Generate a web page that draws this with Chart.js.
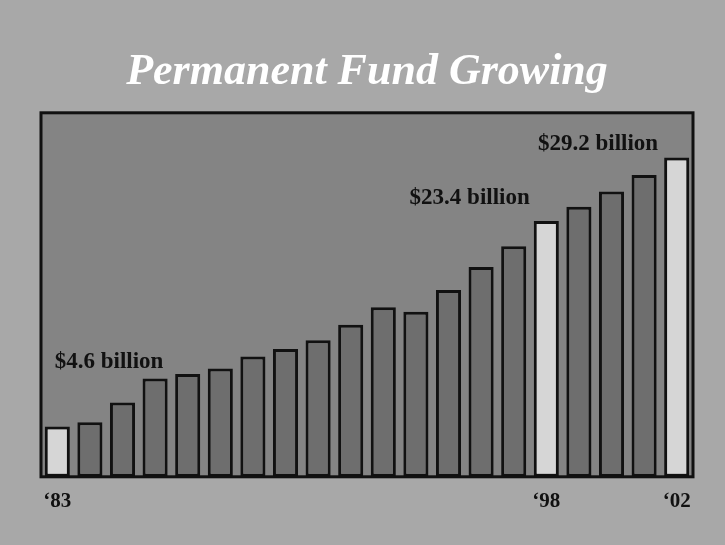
<!DOCTYPE html>
<html>
<head>
<meta charset="utf-8">
<title>Permanent Fund Growing</title>
<script src="https://cdn.jsdelivr.net/npm/chart.js@4/dist/chart.umd.min.js"></script>
<style>
  html, body { margin: 0; padding: 0; background: #a8a8a8; }
  canvas { display: block; }
</style>
</head>
<body>
<canvas id="fundChart" width="725" height="545"></canvas>
<script>
// fund value per fiscal year, in $ billion
const years = ['‘83', '‘84', '‘85', '‘86', '‘87', '‘88', '‘89', '‘90', '‘91', '‘92',
               '‘93', '‘94', '‘95', '‘96', '‘97', '‘98', '‘99', '‘00', '‘01', '‘02'];
const fundValues = [4.6, 5.0, 6.8, 9.0, 9.4, 9.9, 11.0, 11.7, 12.5, 13.9,
                    15.5, 15.1, 17.1, 19.2, 21.1, 23.4, 24.7, 26.1, 27.6, 29.2];
const highlightYears = ['‘83', '‘98', '‘02'];
const noteTexts = ['$4.6 billion', '$23.4 billion', '$29.2 billion'];

const DARK_BAR = '#6e6e6e';
const LIGHT_BAR = '#d6d6d6';

const barColors = years.map(y => highlightYears.includes(y) ? LIGHT_BAR : DARK_BAR);

// panel background + border
const panelPlugin = {
    id: 'panel',
    beforeDraw(chart) {
        const { ctx, chartArea: a } = chart;
        ctx.save();
        ctx.fillStyle = '#a8a8a8';
        ctx.fillRect(0, 0, chart.width, chart.height);
        ctx.fillStyle = '#848484';
        ctx.fillRect(a.left, a.top, a.right - a.left, a.bottom - a.top);
        ctx.restore();
    },
    afterDatasetsDraw(chart) {
        const { ctx, chartArea: a } = chart;
        ctx.save();
        ctx.strokeStyle = '#111';
        ctx.lineWidth = 3;
        ctx.strokeRect(a.left, a.top, a.right - a.left, a.bottom - a.top);
        ctx.restore();
    }
};

// "$x billion" notes next to the highlighted bars
const notesPlugin = {
    id: 'notes',
    afterDatasetsDraw(chart) {
        const { ctx } = chart;
        const bars = chart.getDatasetMeta(0).data;
        const place = [
            { align: 'left', dx: 10, dy: -64 },
            { align: 'right', dx: -4, dy: -23 },
            { align: 'right', dx: -6, dy: -14 }
        ];
        ctx.save();
        ctx.font = 'bold 23px "Liberation Serif", "Times New Roman", serif';
        ctx.fillStyle = '#111';
        ctx.textBaseline = 'middle';
        highlightYears.forEach((y, i) => {
            const bar = bars[years.indexOf(y)];
            const left = bar.x - bar.width / 2;
            ctx.textAlign = place[i].align;
            ctx.fillText(noteTexts[i], left + place[i].dx, bar.y + place[i].dy);
        });
        ctx.restore();
    }
};

const chart = new Chart(document.getElementById('fundChart'), {
    type: 'bar',
    data: {
        labels: years,
        datasets: [{
            data: fundValues,
            backgroundColor: barColors,
            borderColor: '#111',
            borderWidth: 3,
            borderSkipped: false,
            barPercentage: 0.77,
            categoryPercentage: 1.0
        }]
    },
    options: {
        responsive: false,
        animation: false,
        devicePixelRatio: 1,
        layout: {
            padding: { left: 41, right: 32, top: 0, bottom: 27 }
        },
        plugins: {
            legend: { display: false },
            tooltip: { enabled: false },
            title: {
                display: true,
                text: 'Permanent Fund Growing',
                color: '#ffffff',
                font: { family: '"Liberation Serif", "Times New Roman", serif', size: 44, style: 'italic', weight: 'bold', lineHeight: 1.2 },
                padding: { top: 46, bottom: 14 }
            }
        },
        scales: {
            x: {
                grid: { display: false },
                border: { display: false },
                ticks: {
                    autoSkip: false,
                    maxRotation: 0,
                    padding: 4,
                    color: '#111',
                    font: { family: '"Liberation Serif", "Times New Roman", serif', size: 21, weight: 'bold' },
                    callback: function (value, index) {
                        const lab = years[index];
                        return highlightYears.includes(lab) ? lab : '';
                    }
                }
            },
            y: {
                display: false,
                min: 0,
                max: 33.3
            }
        }
    },
    plugins: [panelPlugin, notesPlugin]
});
</script>
</body>
</html>
